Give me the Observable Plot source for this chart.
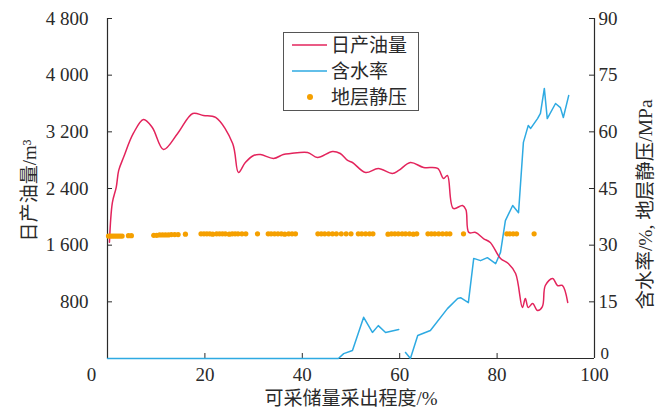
<!DOCTYPE html>
<html><head><meta charset="utf-8">
<script src="https://cdn.jsdelivr.net/npm/d3@7"></script>
<script src="https://cdn.jsdelivr.net/npm/@observablehq/plot@0.6"></script>
<style>
body{margin:0;background:#fff;}
#wrap{position:relative;width:665px;height:419px;}
#legend{position:absolute;left:0;top:0;}
</style>
</head><body>
<div id="wrap"></div>
<script>
// ---- data (x: 可采储量采出程度 %) ----
const xTicks = [0, 20, 40, 60, 80, 100];
const leftTicks = [0, 800, 1600, 2400, 3200, 4000, 4800];
const rightTicks = [0, 15, 30, 45, 60, 75, 90];

const oilX = [0.4,1.0,1.8,2.3,3.3,5.3,7.4,9.2,11.5,14.4,17.5,19.7,22.2,25.7,26.9,28.3,30,31.4,34.1,36.1,37.6,41.1,43.1,46.2,47.8,49.3,50.3,53,55.6,58.5,59.8,62.2,64.9,67.8,69,69.8,71,72.9,73.6,74.2,75.6,77.2,78.6,80.7,82.3,83.8,85.2,85.8,86.4,87.3,88.3,89.3,89.9,91.4,92.4,93.4,94.5];
const oilY = [1640,2200,2420,2655,2840,3177,3375,3262,2951,3177,3459,3431,3403,3036,2626,2767,2866,2880,2824,2880,2894,2909,2838,2923,2894,2796,2767,2626,2683,2612,2655,2767,2697,2683,2542,2584,2118,2160,2100,1780,1779,1694,1638,1412,1341,1200,720,847,720,776,678,734,1031,1130,1031,1031,791];

const waterX = [0,47.4,48.5,50.3,52.6,54.4,55.6,57.1,59.8,60.5,61.2,62.2,63.7,66.3,69.8,71.9,72.5,74.1,75.2,76.6,78,79.7,80.7,81.7,83.2,84.4,85.4,86.4,86.9,88.3,88.9,89.7,90.3,92,93,93.6,94.7];
const waterY = [0,0,1.3,2.1,10.9,6.9,8.7,6.9,7.7,null,1.6,0,6.1,7.4,13.2,15.9,16.1,14.8,26.5,25.9,26.7,25.1,28.1,36.5,40.5,38.6,57.2,61.7,60.9,63.5,64.9,71.5,63.5,67.5,66.4,63.8,69.6];

const presX = [0.2,0.6,1.0,1.4,1.8,2.2,2.6,3.0,4.3,4.9,9.5,10.1,10.7,11.3,11.9,12.5,13.1,13.8,14.5,16.0,19.2,19.8,20.4,21.0,21.6,22.4,23.0,23.6,24.2,25.0,25.6,26.2,26.8,27.6,28.4,30.8,33.0,33.6,34.3,35.0,35.7,36.4,37.2,37.9,38.6,43.2,43.9,44.6,45.4,46.2,47.0,48.0,49.0,50.0,51.5,52.2,53.0,53.8,54.5,57.6,58.3,59.0,59.7,60.5,61.2,62.0,62.8,63.5,65.8,66.5,67.2,68.0,68.8,69.6,70.3,73.1,82.0,82.6,83.3,84.0,87.6];
const presY = [32.4,32.4,32.4,32.4,32.4,32.4,32.4,32.4,32.5,32.5,32.6,32.6,32.7,32.7,32.7,32.7,32.8,32.8,32.8,32.9,33.0,33.0,33.0,33.0,32.9,33.0,33.0,33.0,33.0,32.9,33.0,33.0,33.0,33.0,33.0,33.0,33.0,33.0,33.0,33.0,33.0,32.9,33.0,33.0,33.0,33.0,33.0,33.0,33.0,33.0,33.0,33.0,33.0,33.0,33.0,33.0,33.0,33.0,33.0,32.9,33.0,33.0,33.0,33.0,33.0,33.0,32.9,33.0,33.0,33.0,33.0,33.0,33.0,33.0,33.0,33.0,33.0,33.0,33.0,33.0,33.0];

const seriesNames = ["日产油量", "含水率", "地层静压"];
const seriesColors = ["#e3245c", "#2eaae2", "#f5a000"];
const xLabel = "可采储量采出程度/%";
const yLabelLeft = "日产油量/m³";
const yLabelRight = "含水率/%, 地层静压/MPa";

// right-axis values share the left scale: 90 ↔ 4800
const k = 4800 / 90;
const oil = oilX.map((x, i) => ({x, y: oilY[i]}));
const water = waterX.map((x, i) => ({x, y: waterY[i] == null ? NaN : waterY[i] * k}));
const pres = presX.map((x, i) => ({x, y: presY[i] * k}));

const font = '"Liberation Serif","Noto Sans CJK SC",serif';
const ink = "#2a2a2a";
const fw = 665 - 107 - 71, fh = 419 - 18 - 61;

const chart = Plot.plot({
  width: 665, height: 419,
  marginLeft: 107, marginRight: 71, marginTop: 18, marginBottom: 61,
  style: {fontFamily: font, fontSize: "19px", color: ink, background: "white", overflow: "visible"},
  x: {domain: [0, 100]},
  y: {domain: [0, 4800]},
  marks: [
    Plot.axisX(xTicks.filter(d => d > 0), {tickSize: 0, tickPadding: 9, label: null, fontSize: 19}),
    Plot.axisX([0], {tickSize: 0, tickPadding: 9, dx: -16, label: null, fontSize: 19}),
    Plot.axisY(leftTicks.filter(d => d > 0), {tickSize: 0, tickPadding: 19, label: null, fontSize: 19,
      tickFormat: d => d3.format(",")(d).replace(",", " ")}),
    Plot.axisY(rightTicks.filter(d => d > 0).map(d => d * k), {anchor: "right", tickSize: 0, tickPadding: 4, label: null, fontSize: 19,
      tickFormat: d => String(Math.round(d / k))}),
    Plot.axisY([0], {anchor: "right", tickSize: 0, tickPadding: 6, dy: -5, label: null, fontSize: 17,
      tickFormat: d => String(Math.round(d / k))}),
    Plot.tickY(leftTicks, {y: d => d, insetRight: fw - 5, stroke: ink}),
    Plot.tickY(rightTicks.map(d => d * k), {y: d => d, insetLeft: fw - 5, stroke: ink}),
    Plot.tickX(xTicks, {x: d => d, insetTop: fh - 5, stroke: ink}),
    Plot.ruleX([0, 100], {stroke: ink, strokeWidth: 1.2}),
    Plot.ruleY([0], {stroke: ink, strokeWidth: 1.2}),
    Plot.line(water, {x: "x", y: "y", stroke: seriesColors[1], strokeWidth: 1.5}),
    Plot.line(oil, {x: "x", y: "y", stroke: seriesColors[0], strokeWidth: 1.5, curve: "catmull-rom"}),
    Plot.dot(pres, {x: "x", y: "y", r: 2.6, fill: seriesColors[2], stroke: "none"}),
    Plot.text([xLabel], {frameAnchor: "bottom", dy: 40, lineAnchor: "middle", textAnchor: "middle", fontSize: 19, fill: ink, fontFamily: font}),
    Plot.text([yLabelLeft], {frameAnchor: "left", dx: -78, dy: 2, rotate: -90, textAnchor: "middle", lineAnchor: "middle", fontSize: 19, fill: ink, fontFamily: font}),
    Plot.text([yLabelRight], {frameAnchor: "right", dx: 51, dy: 16, rotate: -90, textAnchor: "middle", lineAnchor: "middle", fontSize: 19.5, fill: ink, fontFamily: font})
  ]
});
document.getElementById("wrap").appendChild(chart);

// legend overlay
const lg = d3.select("#wrap").append("svg").attr("id", "legend").attr("width", 665).attr("height", 419);
lg.append("rect").attr("x", 283.5).attr("y", 32.5).attr("width", 135).attr("height", 78)
  .attr("fill", "white").attr("stroke", "#555").attr("stroke-width", 1);
const rowsY = [45, 71, 97];
seriesNames.forEach((name, i) => {
  const y = rowsY[i];
  if (i < 2) lg.append("line").attr("x1", 292).attr("x2", 327).attr("y1", y).attr("y2", y)
    .attr("stroke", seriesColors[i]).attr("stroke-width", 1.5);
  else lg.append("circle").attr("cx", 310).attr("cy", y).attr("r", 3).attr("fill", seriesColors[i]);
  lg.append("text").attr("x", 331).attr("y", y).attr("dy", "0.35em").attr("font-size", 19)
    .attr("font-family", font).attr("fill", ink).text(name);
});
</script>
</body></html>
